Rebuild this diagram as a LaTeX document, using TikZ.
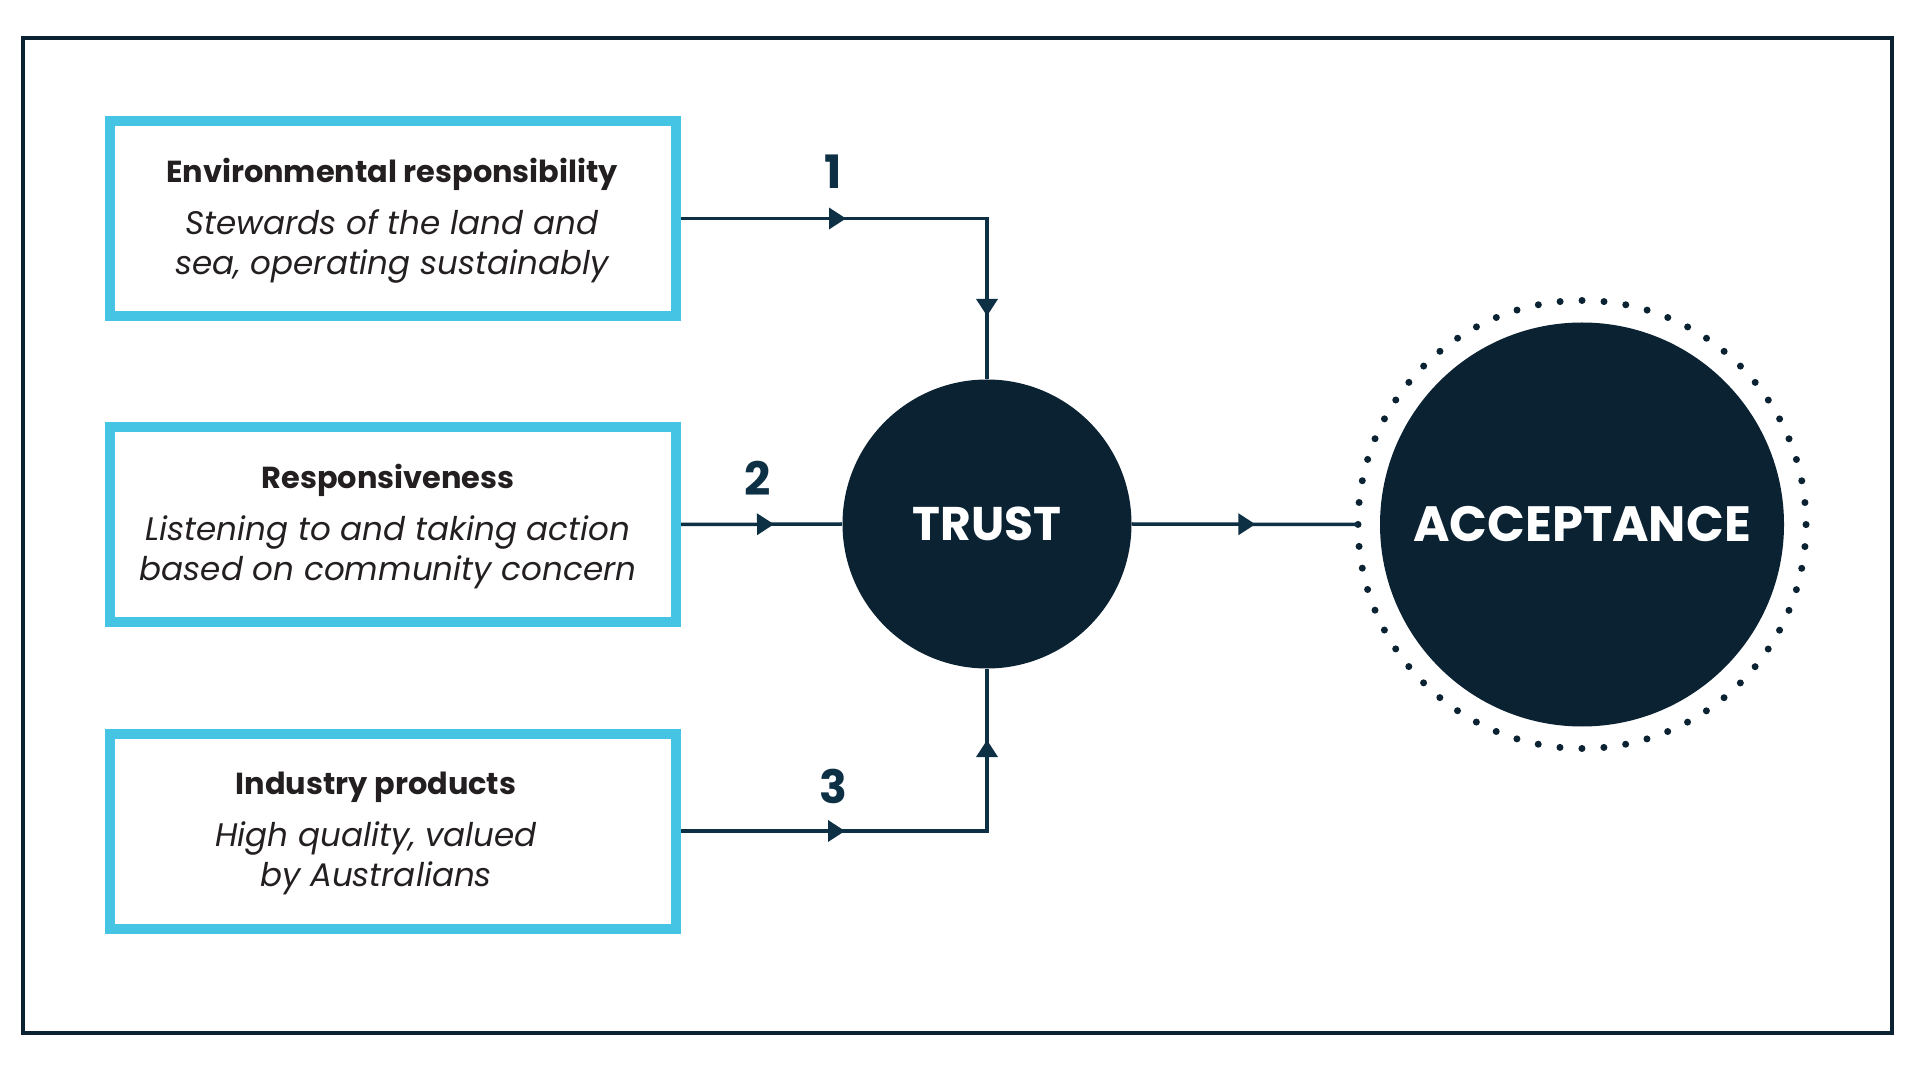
\documentclass[tikz,border=0pt]{standalone}
\usepackage{fontspec}
\setmainfont{Poppins}
\usetikzlibrary{arrows.meta,decorations.markings,calc}

\definecolor{navy}{HTML}{0B2232}
\definecolor{linkcol}{HTML}{0E3045}
\definecolor{skyline}{HTML}{45C4E4}
\definecolor{inktext}{HTML}{231F20}

\newcommand{\factorhead}[1]{{\upshape\bfseries\fontsize{15.2}{20}\selectfont #1}}

\tikzset{
  factor/.style={draw=skyline, line width=5pt, minimum width=283pt,
    minimum height=97.5pt, inner sep=0pt},
  factortext/.style={align=center, text=inktext,
    font=\fontsize{16.3}{20}\selectfont\itshape},
  hub/.style={circle, fill=navy, text=white, inner sep=0pt,
    font=\bfseries\fontsize{#1}{30}\selectfont},
  link/.style={draw=linkcol, line width=1.75pt},
  numlabel/.style={text=linkcol, font=\bfseries\fontsize{23}{24}\selectfont},
  tip/.style={postaction=decorate, decoration={markings,
    mark=at position #1 with {\arrow{Triangle[length=8.5pt,width=10.5pt]}}}},
  tips/.style 2 args={postaction=decorate, decoration={markings,
    mark=at position #1 with {\arrow{Triangle[length=8.5pt,width=10.5pt]}},
    mark=at position #2 with {\arrow{Triangle[length=8.5pt,width=10.5pt]}}}},
}

\begin{document}
\begin{tikzpicture}[x=0.5pt,y=-0.5pt]
  \useasboundingbox (0,0) rectangle (1920,1068);
  \draw[navy, line width=2pt] (22.5,38) rectangle (1892,1033);

  % the three factors
  \node[factor] (env) at (393,218.5) {};
  \node[factor] (resp) at (393,524.5) {};
  \node[factor] (prod) at (393,831) {};
  \node[factortext] (envtext) at (392,221) {\factorhead{Environmental responsibility}\\[6pt]
    Stewards of the land and\\ sea, operating sustainably};
  \node[factortext] (resptext) at (388,527) {\factorhead{Responsiveness}\\[6pt]
    Listening to and taking action\\ based on community concern};
  \node[factortext] (prodtext) at (376,833) {\factorhead{Industry products}\\[6pt]
    High quality, valued\\ by Australians};

  % trust and acceptance
  \node[hub=23.6, minimum size=144.5pt] (trust) at (987,524) {TRUST};
  \node[hub=24.8, minimum size=202pt] (accept) at (1582,524.5) {ACCEPTANCE};
  \node[circle, draw=navy, line width=3.5pt, line cap=round,
    dash pattern=on 0pt off 10.996pt, minimum size=224pt,
    inner sep=0pt, outer sep=0pt] (ring) at (accept) {};

  \path[link, tips={82.5pt}{201.75pt}] (env.east)
    -- node[numlabel, pos=0.497, yshift=23.5pt] {1} (env.east -| trust.north)
    -- (trust.north);
  \path[link, tip=46.5pt] (resp.east)
    -- node[numlabel, pos=0.478, yshift=23pt] {2} (trust.west);
  \path[link, tips={82pt}{198.5pt}] (prod.east)
    -- node[numlabel, pos=0.497, yshift=22.5pt] {3} (prod.east -| trust.south)
    -- (trust.south);
  \path[link, tip=61.75pt] (trust.east) -- (ring.west);
\end{tikzpicture}
\end{document}
